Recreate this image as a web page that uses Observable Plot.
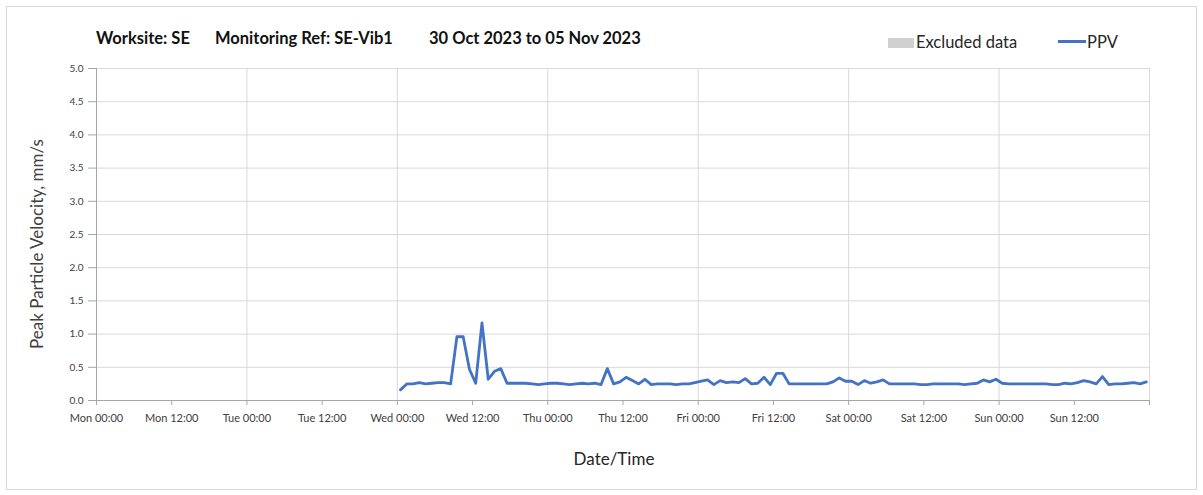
<!DOCTYPE html>
<html>
<head>
<meta charset="utf-8">
<script src="https://cdn.jsdelivr.net/npm/d3@7"></script>
<script src="https://cdn.jsdelivr.net/npm/@observablehq/plot@0.6"></script>
<style>
  html, body { margin: 0; padding: 0; background: #fff; }
  #wrap { position: relative; width: 1203px; height: 495px; font-family: Lato, "Open Sans", sans-serif; overflow: hidden; }
  #frame { position: absolute; left: 6px; top: 6px; width: 1191px; height: 484px; border: 1px solid #d9d9d9; box-sizing: border-box; pointer-events: none; }
  .t { position: absolute; white-space: nowrap; }
  .title { top: 28px; font-weight: bold; font-size: 16.5px; color: #111; }
  .leg { top: 32px; font-size: 16.5px; color: #262626; }
  .ylab { left: 36px; top: 244px; font-size: 17px; color: #404040; transform: translate(-50%, -50%) rotate(-90deg); }
  .xlab { left: 614px; top: 458px; font-size: 17px; color: #262626; transform: translate(-50%, -50%); }
  #chart { position: absolute; left: 0; top: 0; }
</style>
</head>
<body>
<div id="wrap">
  <div id="chart"></div>
  <div class="t title" id="title1" style="left:96px"></div>
  <div class="t title" id="title2" style="left:215px"></div>
  <div class="t title" id="title3" style="left:429px"></div>
  <div class="t" style="left:888px; top:38px; width:26px; height:10px; background:#d0d0d0"></div>
  <div class="t leg" id="leg1" style="left:916px"></div>
  <div class="t" style="left:1058px; top:40px; width:28px; height:3px; background:#4472C4"></div>
  <div class="t leg" id="leg2" style="left:1087px"></div>
  <div class="t ylab" id="ylab"></div>
  <div class="t xlab" id="xlab"></div>
  <div id="frame"></div>
</div>
<script>
// ---- Text ----
const titleParts = ["Worksite: SE", "Monitoring Ref: SE-Vib1", "30 Oct 2023 to 05 Nov 2023"];
const legendLabels = ["Excluded data", "PPV"];
const yAxisTitle = "Peak Particle Velocity, mm/s";
const xAxisTitle = "Date/Time";

// ---- Axes ----
const xStart = "2023-10-30T00:00Z";   // Mon 00:00
const xEnd = "2023-11-06T00:00Z";     // following Mon 00:00
const yTicks = [0, 0.5, 1, 1.5, 2, 2.5, 3, 3.5, 4, 4.5, 5];

// ---- Series: hourly PPV readings, first reading Wed 01 Nov 00:30 ----
const firstReading = "2023-11-01T00:30Z";
const ppv = [
  0.16, 0.25, 0.25, 0.27, 0.25, 0.26, 0.27, 0.27, 0.25, 0.96,
  0.96, 0.47, 0.26, 1.17, 0.32, 0.44, 0.48, 0.26, 0.26, 0.26,
  0.26, 0.25, 0.24, 0.25, 0.26, 0.26, 0.25, 0.24, 0.25, 0.26,
  0.25, 0.26, 0.24, 0.48, 0.25, 0.28, 0.35, 0.30, 0.25, 0.32,
  0.24, 0.25, 0.25, 0.25, 0.24, 0.25, 0.25, 0.27, 0.29, 0.31,
  0.24, 0.30, 0.27, 0.28, 0.27, 0.33, 0.25, 0.26, 0.35, 0.24,
  0.41, 0.41, 0.25, 0.25, 0.25, 0.25, 0.25, 0.25, 0.25, 0.28,
  0.34, 0.29, 0.29, 0.24, 0.30, 0.26, 0.28, 0.31, 0.25, 0.25,
  0.25, 0.25, 0.25, 0.24, 0.24, 0.25, 0.25, 0.25, 0.25, 0.25,
  0.24, 0.25, 0.26, 0.31, 0.28, 0.32, 0.26, 0.25, 0.25, 0.25,
  0.25, 0.25, 0.25, 0.25, 0.24, 0.24, 0.26, 0.25, 0.27, 0.30,
  0.28, 0.25, 0.36, 0.24, 0.25, 0.25, 0.26, 0.27, 0.25, 0.28
];

// ---- Build ----
const t0 = new Date(xStart), t1 = new Date(xEnd);
const first = Date.parse(firstReading);
const data = ppv.map((v, i) => ({ t: new Date(first + i * 3600e3), v }));
const dayTicks = d3.utcDay.range(t0, new Date(+t1 + 1));
const halfDayTicks = d3.utcHour.every(12).range(t0, new Date(+t1 + 1));
const xLabelTicks = halfDayTicks.filter(d => +d < +t1);
const fmt = d3.utcFormat("%a %H:%M");

document.getElementById("title1").textContent = titleParts[0];
document.getElementById("title2").textContent = titleParts[1];
document.getElementById("title3").textContent = titleParts[2];
document.getElementById("leg1").textContent = legendLabels[0];
document.getElementById("leg2").textContent = legendLabels[1];
document.getElementById("ylab").textContent = yAxisTitle;
document.getElementById("xlab").textContent = xAxisTitle;

const chart = Plot.plot({
  width: 1203,
  height: 495,
  marginLeft: 96,
  marginRight: 54,
  marginTop: 68,
  marginBottom: 95,
  style: { fontFamily: "Lato, 'Open Sans', sans-serif", background: "#fff" },
  x: { type: "utc", domain: [t0, t1], label: null },
  y: { domain: [0, 5], label: null },
  marks: [
    Plot.gridY(yTicks, { stroke: "#d9d9d9", strokeOpacity: 1 }),
    Plot.gridX(dayTicks, { stroke: "#d9d9d9", strokeOpacity: 1 }),
    Plot.ruleY([0], { stroke: "#a6a6a6" }),
    Plot.ruleX([t0], { stroke: "#a6a6a6" }),
    Plot.axisY(yTicks, {
      tickFormat: d => d.toFixed(1), tickSize: 8, tickPadding: 5,
      stroke: "#a6a6a6", fill: "#404040", fontSize: 10, label: null
    }),
    Plot.axisX(halfDayTicks, {
      tickFormat: () => "", tickSize: 5, stroke: "#a6a6a6", label: null
    }),
    Plot.axisX(xLabelTicks, {
      tickFormat: fmt, tickSize: 0, tickPadding: 14,
      fill: "#404040", fontSize: 11, label: null
    }),
    Plot.line(data, { x: "t", y: "v", stroke: "#4472C4", strokeWidth: 2.8, strokeLinejoin: "round" })
  ]
});
document.getElementById("chart").appendChild(chart);
</script>
</body>
</html>
